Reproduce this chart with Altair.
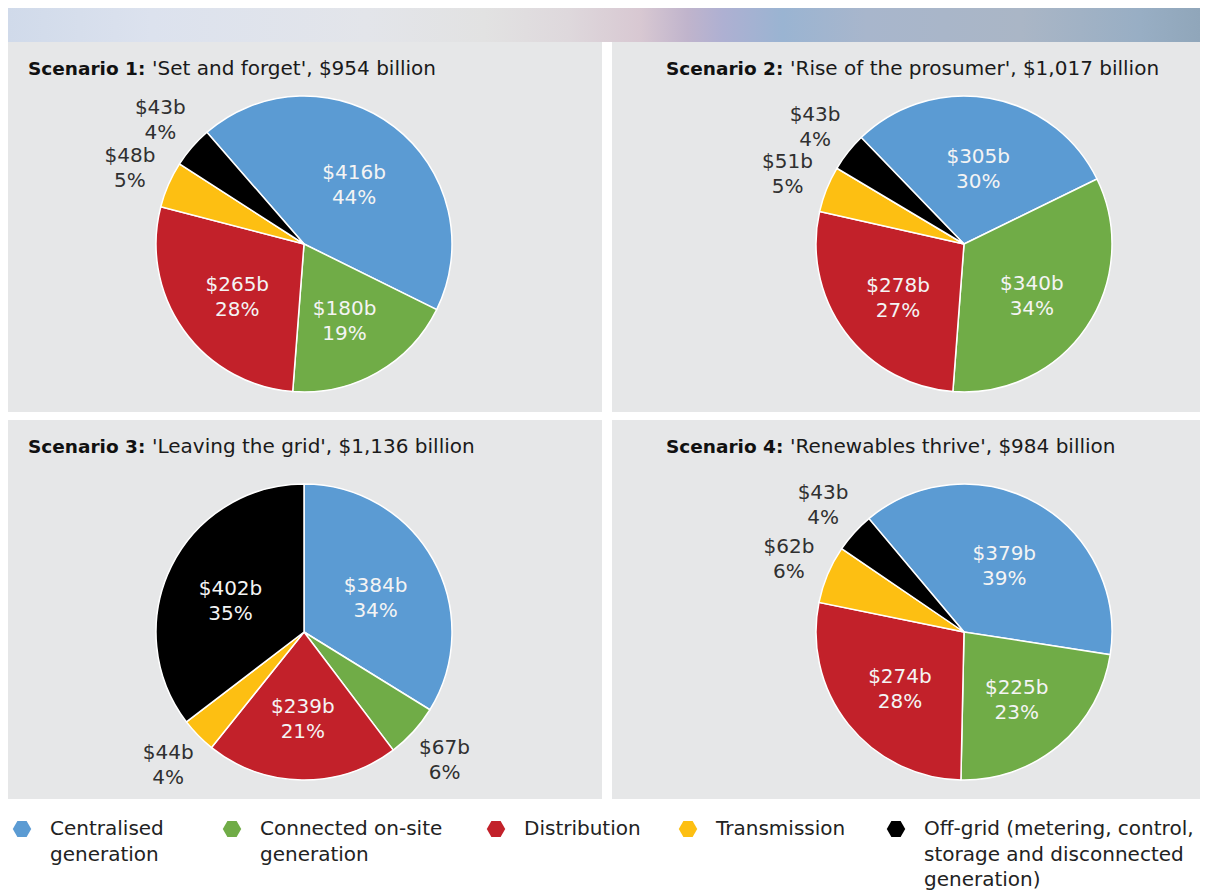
import math
import altair as alt
import pandas as pd

FONT = "DejaVu Sans"

categories = [
    "Centralised generation",
    "Connected on-site generation",
    "Distribution",
    "Transmission",
    "Off-grid (metering, control, storage and disconnected generation)",
]
colors = ["#5b9bd3", "#70ac47", "#c2212a", "#fdbf12", "#000000"]
legend_labels = [
    "Centralised\ngeneration",
    "Connected on-site\ngeneration",
    "Distribution",
    "Transmission",
    "Off-grid (metering, control,\nstorage and disconnected\ngeneration)",
]

s1_values = [416, 180, 265, 48, 43]
s1_pct = [44, 19, 28, 5, 4]
s2_values = [305, 340, 278, 51, 43]
s2_pct = [30, 34, 27, 5, 4]
s3_values = [384, 67, 239, 44, 402]
s3_pct = [34, 6, 21, 4, 35]
s4_values = [379, 225, 274, 62, 43]
s4_pct = [39, 23, 28, 6, 4]

title_bold = ["Scenario 1:", "Scenario 2:", "Scenario 3:", "Scenario 4:"]
title_rest = [
    "'Set and forget', $954 billion",
    "'Rise of the prosumer', $1,017 billion",
    "'Leaving the grid', $1,136 billion",
    "'Renewables thrive', $984 billion",
]
# first-slice start angle (degrees clockwise from 12 o'clock)
start_deg = [-41, -44, 0, -40]

BG = "#e6e7e8"
NOVIEW = alt.ViewBackground(fill="white", strokeWidth=0)
LH = 25


def panel(k, values, pcts, w, h, bg_h, cx, cy, tx):
    df = pd.DataFrame({
        "category": categories,
        "idx": list(range(len(categories))),
        "value": values,
        "pct": pcts,
    })
    df["label"] = ["$%db\n%d%%" % (v, p) for v, p in zip(values, pcts)]
    s = math.radians(start_deg[k])
    tscale = alt.Scale(domain=[0, sum(values)], range=[s, s + 2 * math.pi], nice=False)

    arcs = alt.Chart(df).mark_arc(outerRadius=148, stroke="white", strokeWidth=1.5).encode(
        theta=alt.Theta("value:Q", stack=True, scale=tscale),
        order=alt.Order("idx:Q"),
        x=alt.value(cx),
        y=alt.value(cy),
        color=alt.Color("category:N",
                        scale=alt.Scale(domain=categories, range=colors),
                        legend=None),
    )
    tbase = alt.Chart(df).transform_window(
        cum="sum(value)", sort=[alt.SortField("idx")], frame=[None, 0]
    ).transform_calculate(mid="datum.cum - datum.value / 2").encode(
        theta=alt.Theta("mid:Q", scale=tscale),
        x=alt.value(cx),
        y=alt.value(cy),
        text="label:N",
    )
    inside = tbase.transform_filter("datum.pct >= 10").mark_text(
        radius=82, dy=-LH / 2 + 6, lineBreak="\n", font=FONT, fontSize=20,
        lineHeight=LH, color="#f4f4f4", align="center", baseline="middle")
    outside = tbase.transform_filter("datum.pct < 10").mark_text(
        radius=190, dy=-LH / 2 + 1, lineBreak="\n", font=FONT, fontSize=20,
        lineHeight=LH, color="#303030", align="center", baseline="middle")

    tdf = pd.DataFrame({"b": [title_bold[k]], "r": [title_rest[k]]})
    bg = alt.Chart(tdf).mark_rect(color=BG).encode(
        x=alt.value(0), x2=alt.value(w), y=alt.value(0), y2=alt.value(bg_h))
    tb = alt.Chart(tdf).mark_text(align="left", baseline="middle", font=FONT,
                                  fontSize=18.5, fontWeight="bold", color="#111111").encode(
        text="b:N", x=alt.value(tx), y=alt.value(27))
    tr = alt.Chart(tdf).mark_text(align="left", baseline="middle", font=FONT,
                                  fontSize=20, color="#1a1a1a").encode(
        text="r:N", x=alt.value(tx + 124), y=alt.value(27))
    return alt.layer(bg, arcs, inside, outside, tb, tr).properties(
        width=w, height=h, view=NOVIEW)


p1 = panel(0, s1_values, s1_pct, 594, 378, 370, 296, 202, 20)
p2 = panel(1, s2_values, s2_pct, 588, 378, 370, 352, 202, 54)
p3 = panel(2, s3_values, s3_pct, 594, 379, 379, 296, 212, 20)
p4 = panel(3, s4_values, s4_pct, 588, 379, 379, 352, 212, 54)

row1 = alt.hconcat(p1, p2, spacing=10).resolve_scale(theta="independent")
row2 = alt.hconcat(p3, p4, spacing=10).resolve_scale(theta="independent")

# decorative banner
banner = alt.Chart(pd.DataFrame({"a": [0]})).mark_rect(
    color=alt.LinearGradient(
        gradient="linear", x1=0, x2=1, y1=0, y2=0,
        stops=[
            alt.GradientStop(color="#d0daea", offset=0),
            alt.GradientStop(color="#dce2ee", offset=0.12),
            alt.GradientStop(color="#e3e5ea", offset=0.3),
            alt.GradientStop(color="#e2e2e2", offset=0.4),
            alt.GradientStop(color="#ded8dc", offset=0.47),
            alt.GradientStop(color="#d8c8d2", offset=0.53),
            alt.GradientStop(color="#c0b4cc", offset=0.57),
            alt.GradientStop(color="#aeb0d2", offset=0.6),
            alt.GradientStop(color="#9ab4d2", offset=0.65),
            alt.GradientStop(color="#a8b6cc", offset=0.72),
            alt.GradientStop(color="#aab6c6", offset=0.85),
            alt.GradientStop(color="#98aec4", offset=0.95),
            alt.GradientStop(color="#90a6ba", offset=1),
        ],
    )
).encode(x=alt.value(0), x2=alt.value(1192), y=alt.value(0), y2=alt.value(34)).properties(
    width=1192, height=34, view=NOVIEW)

# custom legend
HEX = "M-1,0L-0.5,-0.866L0.5,-0.866L1,0L0.5,0.866L-0.5,0.866Z"
legend_x = [14, 224, 488, 680, 888]
leg_df = pd.DataFrame({"category": categories, "label": legend_labels})
leg_layers = []
for c, col, lx in zip(categories, colors, legend_x):
    d = alt.Chart(leg_df).transform_filter(alt.datum.category == c)
    leg_layers.append(d.mark_point(shape=HEX, filled=True, size=340, color=col, opacity=1).encode(
        x=alt.value(lx), y=alt.value(30)))
    leg_layers.append(d.mark_text(align="left", baseline="middle", lineBreak="\n", font=FONT,
                                  fontSize=20, lineHeight=25.5, color="#222222").encode(
        text="label:N", x=alt.value(lx + 28), y=alt.value(30)))
legend = alt.layer(*leg_layers).properties(width=1192, height=80, view=NOVIEW)

chart = alt.vconcat(banner, row1, row2, legend, spacing=0).resolve_scale(
    theta="independent").properties(padding=0)

chart.save("out.html", embed_options={"renderer": "svg", "actions": False})
